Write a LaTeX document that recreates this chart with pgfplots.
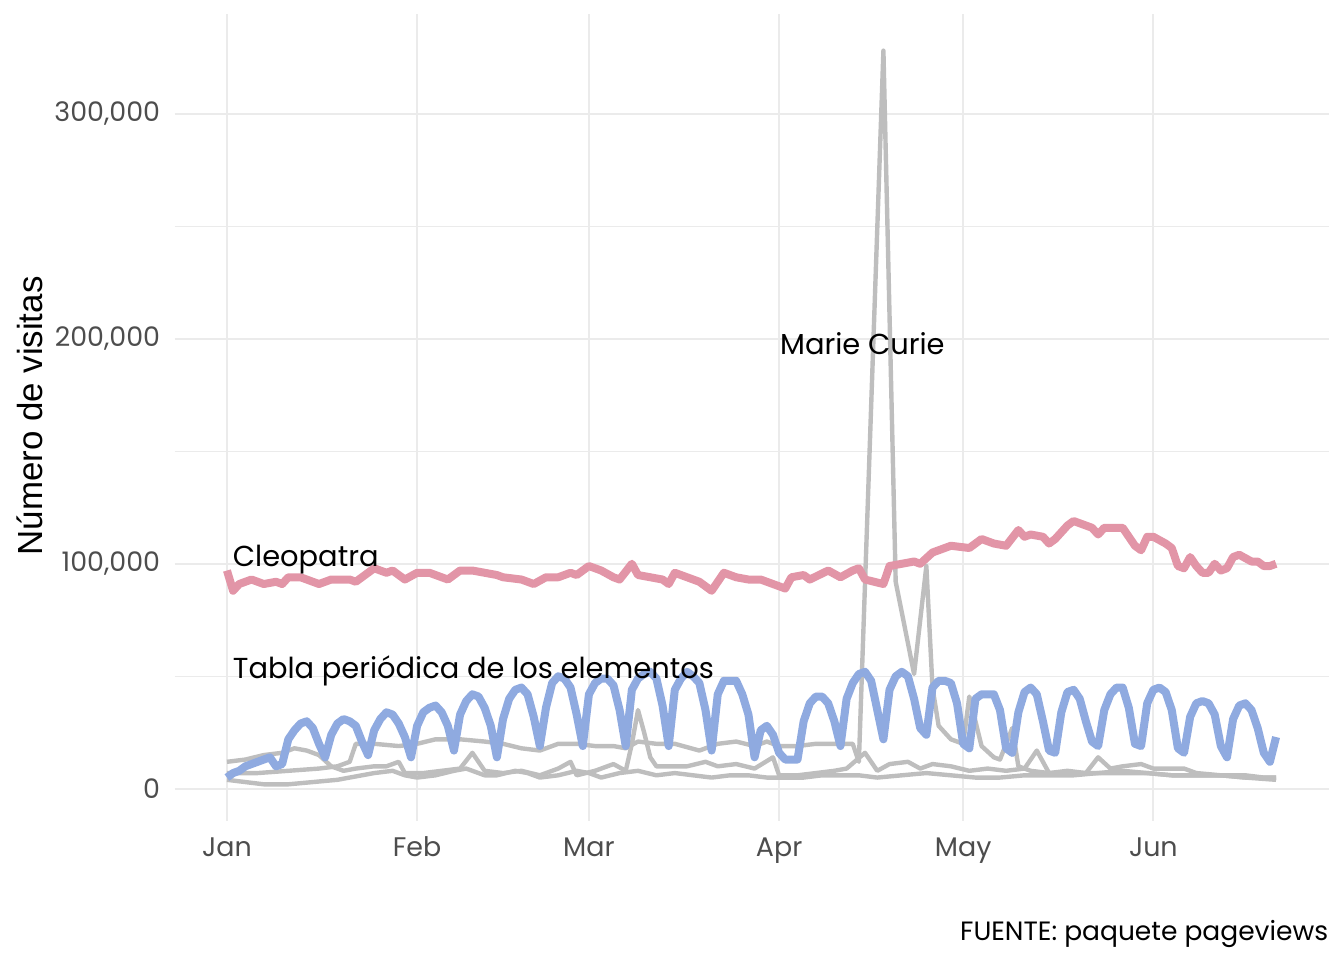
\documentclass[border=0pt]{standalone}
\usepackage{fontspec}
\setmainfont{Poppins}
\newfontfamily\labfont{Liberation Sans}
\usepackage{pgfplots}
\pgfplotsset{compat=1.18}

\definecolor{cleo}{HTML}{E295A7}
\definecolor{tabla}{HTML}{8FAAE0}
\definecolor{gris}{HTML}{BEBEBE}
\definecolor{rejilla}{HTML}{EBEBEB}
\definecolor{textogris}{HTML}{4D4D4D}

% visitas diarias en miles; dia 0 = 1 de enero
\pgfplotstableread{
d v
0 5
1 7
2 8
3 10
4 11
5 12
6 13
7 14
8 10
9 11
10 22
11 26
12 29
13 30
14 27
15 20
16 14
17 24
18 29
19 31
20 30
21 28
22 21
23 15
24 26
25 31
26 34
27 33
28 29
29 23
30 14
31 28
32 34
33 36
34 37
35 34
36 28
37 17
38 33
39 39
40 42
41 41
42 36
43 28
44 14
45 31
46 40
47 44
48 45
49 42
50 32
51 19
52 36
53 47
54 50
55 49
56 45
57 33
58 19
59 42
60 47
61 49
62 49
63 46
64 35
65 19
66 44
67 49
68 51
69 52
70 49
71 37
72 19
73 44
74 49
75 52
76 50
77 47
78 35
79 17
80 42
81 48
82 48
83 48
84 42
85 33
86 14
87 26
88 28
89 24
90 16
91 13
92 13
93 13
94 30
95 38
96 41
97 41
98 38
99 30
100 19
101 40
102 47
103 51
104 52
105 48
106 35
107 22
108 44
109 50
110 52
111 50
112 40
113 27
114 24
115 45
116 48
117 48
118 47
119 38
120 20
121 18
122 40
123 42
124 42
125 42
126 35
127 18
128 16
129 34
130 43
131 45
132 42
133 30
134 17
135 16
136 34
137 43
138 44
139 40
140 30
141 21
142 19
143 35
144 42
145 45
146 45
147 36
148 20
149 19
150 38
151 44
152 45
153 43
154 35
155 18
156 16
157 32
158 38
159 39
160 38
161 33
162 19
163 14
164 31
165 37
166 38
167 35
168 27
169 16
170 12
171 23
}\tabla

\pgfplotstableread{
d v
0 97
1 88
2 91
4 93
6 91
8 92
9 91
10 94
12 94
15 91
17 93
20 93
21 92
22 94
24 98
26 96
27 97
29 93
31 96
33 96
35 94
36 93
38 97
40 97
42 96
44 95
45 94
48 93
50 91
52 94
54 94
56 96
57 95
59 99
61 97
63 94
64 93
66 100
67 95
69 94
71 93
72 91
73 96
75 94
77 92
79 88
81 96
83 94
85 93
87 93
89 91
91 89
92 94
94 95
95 93
98 97
100 94
102 97
103 98
104 93
107 91
108 99
110 100
112 101
113 100
115 105
117 107
118 108
121 107
123 111
125 109
127 108
129 115
130 112
131 113
133 112
134 109
135 111
137 117
138 119
139 118
141 116
142 113
143 116
146 116
148 108
149 106
150 112
151 112
153 109
154 107
155 99
156 98
157 103
158 99
159 96
160 96
161 100
162 97
163 98
164 103
165 104
167 101
168 101
169 99
170 99
171 100
}\cleopatra

\pgfplotstableread{
d v
0 7
5 7
10 8
15 9
18 10
20 12
21 20
24 20
28 19
31 20
34 22
38 22
42 21
45 20
48 18
51 17
54 20
57 20
60 19
63 19
65 18
67 21
70 20
73 20
77 17
80 20
83 21
86 19
88 21
90 19
93 19
96 20
99 20
102 20
103 12
107 328
109 92
112 51
114 99
115 45
116 28
118 22
120 20
121 41
123 19
125 14
126 13
128 27
129 10
131 8
134 7
138 7
142 7
146 8
150 7
154 6
158 6
162 6
166 5
171 5
}\curie

\pgfplotstableread{
d v
0 12
3 13
6 15
9 16
11 18
13 17
15 15
17 10
19 8
21 9
24 10
26 10
28 12
29 7
32 7
35 8
38 9
40 16
42 8
45 7
48 8
51 6
54 9
56 12
57 6
60 8
63 11
65 8
66 20
67 35
68 25
69 14
70 10
72 10
75 10
78 12
80 10
83 11
86 9
89 14
90 6
93 6
96 7
99 8
101 9
104 16
106 8
108 11
111 12
113 9
115 11
118 10
121 8
124 9
127 8
130 9
132 17
134 7
137 8
140 7
142 14
144 9
146 10
149 11
151 9
154 9
156 9
158 7
162 6
166 6
169 5
171 5
}\otraA

\pgfplotstableread{
d v
0 4
3 3
6 2
10 2
14 3
18 4
20 5
22 6
24 7
27 8
29 6
31 5
34 6
37 8
39 9
42 6
44 6
47 8
49 7
51 5
54 6
57 8
59 7
61 5
64 7
67 8
70 6
73 7
76 6
79 5
82 6
85 6
88 5
91 5
94 5
97 6
100 6
103 6
106 5
110 6
114 7
118 6
122 5
126 5
130 6
134 6
138 6
142 7
146 7
150 7
154 6
158 6
162 6
166 5
171 4
}\otraC

\begin{document}
\begin{tikzpicture}
\path[use as bounding box] (0,0) rectangle (672bp,480bp);
\begin{axis}[
  at={(87.25bp,69.5bp)}, anchor=south west,
  scale only axis, width=577bp, height=403.5bp,
  xmin=-8.55, xmax=179.55, ymin=-14.3, ymax=344.3,
  axis line style={draw=none},
  major tick length=0pt, minor tick length=0pt,
  xtick={0,31,59,90,120,151},
  xticklabels={Jan,Feb,Mar,Apr,May,Jun},
  ytick={0,100,200,300},
  yticklabels={0,{100,000},{200,000},{300,000}},
  minor ytick={50,150,250},
  grid=both,
  major grid style={draw=rejilla, line width=1bp},
  minor grid style={draw=rejilla, line width=0.5bp},
  ticklabel style={font=\fontsize{13.5}{16}\selectfont, text=textogris, inner sep=0pt},
  xticklabel style={anchor=base, yshift=-18bp},
  yticklabel style={anchor=east, xshift=-7bp},
  every axis plot/.append style={no markers, line join=round},
  clip=false,
]
\addplot[gris, line width=2.2bp] table[x=d, y=v] {\otraC};
\addplot[gris, line width=2.2bp] table[x=d, y=v] {\otraA};
\addplot[gris, line width=2.2bp] table[x=d, y=v] {\curie};
\addplot[cleo, line width=4bp] table[x=d, y=v] {\cleopatra};
\addplot[tabla, line width=4bp] table[x=d, y=v] {\tabla};

\node[anchor=base west, inner sep=0pt, font=\fontsize{14.5}{17}\selectfont] at (axis cs:0.9,98.7) {Cleopatra};
\node[anchor=base west, inner sep=0pt, font=\fontsize{14.5}{17}\selectfont] at (axis cs:0.9,48.9) {Tabla periódica de los elementos};
\node[anchor=base west, inner sep=0pt, font=\fontsize{14.5}{17}\selectfont] at (axis cs:90.1,193) {Marie Curie};
\end{axis}
\node[rotate=90, inner sep=0pt, font=\labfont\fontsize{17.5}{20}\selectfont] at (15bp,272bp) {Número de visitas};
\node[anchor=base east, inner sep=0pt, font=\fontsize{13.3}{16}\selectfont] at (664.25bp,10bp) {FUENTE: paquete pageviews};
\end{tikzpicture}
\end{document}
